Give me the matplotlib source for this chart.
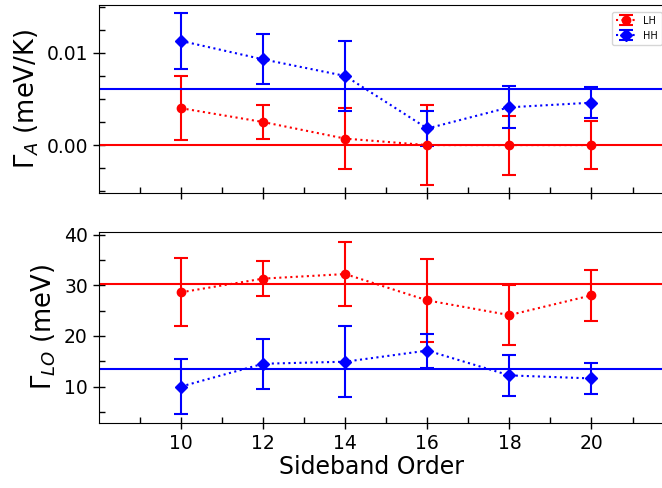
import numpy as np
import matplotlib
matplotlib.use('Agg')
import matplotlib.pyplot as plt
from matplotlib.ticker import MultipleLocator, FormatStrFormatter

orders = [10, 12, 14, 16, 18, 20]

# Gamma_A (meV/K)
ga_lh = [0.0040, 0.0025, 0.0007, 0.0, 0.0, 0.0]
ga_lh_err = [0.0035, 0.0018, 0.0033, 0.0043, 0.0032, 0.0026]
ga_hh = [0.0113, 0.0093, 0.0075, 0.0018, 0.0041, 0.0046]
ga_hh_err = [0.0030, 0.0027, 0.0038, 0.0019, 0.0023, 0.0017]
ga_lh_avg = 0.0
ga_hh_avg = 0.00605

# Gamma_LO (meV)
glo_lh = [28.6, 31.3, 32.2, 27.0, 24.1, 28.0]
glo_lh_err = [6.75, 3.45, 6.4, 8.2, 6.0, 5.05]
glo_hh = [10.0, 14.5, 14.9, 17.1, 12.2, 11.6]
glo_hh_err = [5.4, 4.9, 7.0, 3.35, 4.1, 3.05]
glo_lh_avg = 30.3
glo_hh_avg = 13.55

fig = plt.figure(figsize=(6.62, 4.88), dpi=100)
ax1 = fig.add_axes([0.1495, 0.6045, 0.868, 0.3853])
ax2 = fig.add_axes([0.1495, 0.1342, 0.868, 0.3904], sharex=ax1)

kw = dict(capsize=5, elinewidth=1.5, capthick=1.5, markersize=6, linewidth=1.5, linestyle=':')

ax1.errorbar(orders, ga_lh, yerr=ga_lh_err, color='red', marker='o', label='LH', **kw)
ax1.errorbar(orders, ga_hh, yerr=ga_hh_err, color='blue', marker='D', label='HH', **kw)
ax1.axhline(ga_lh_avg, color='red', linewidth=1.5)
ax1.axhline(ga_hh_avg, color='blue', linewidth=1.5)

ax2.errorbar(orders, glo_lh, yerr=glo_lh_err, color='red', marker='o', **kw)
ax2.errorbar(orders, glo_hh, yerr=glo_hh_err, color='blue', marker='D', **kw)
ax2.axhline(glo_lh_avg, color='red', linewidth=1.5)
ax2.axhline(glo_hh_avg, color='blue', linewidth=1.5)

ax1.set_xlim(8, 22)
ax1.set_ylim(-0.0052, 0.0152)
ax2.set_ylim(2.9, 40.5)

ax1.yaxis.set_major_locator(MultipleLocator(0.01))
ax1.yaxis.set_minor_locator(MultipleLocator(0.0025))
ax1.yaxis.set_major_formatter(FormatStrFormatter('%.2f'))
ax2.yaxis.set_major_locator(MultipleLocator(10))
ax2.yaxis.set_minor_locator(MultipleLocator(5))
ax2.set_xticks(orders)
ax2.set_xticks([9, 11, 13, 15, 17, 19, 21], minor=True)

for ax in (ax1, ax2):
    ax.tick_params(which='major', direction='inout', length=9, width=1, labelsize=13.5)
    ax.tick_params(which='minor', direction='in', length=4, width=1)
plt.setp(ax1.get_xticklabels(), visible=False)

ax1.set_ylabel(r'$\Gamma_A$ (meV/K)', fontsize=18.5)
ax2.set_ylabel(r'$\Gamma_{LO}$ (meV)', fontsize=18.5)
ax2.set_xlabel('Sideband Order', fontsize=17)
ax2.xaxis.set_label_coords(0.475, -0.17)

ax1.legend(loc='upper right', fontsize=7, bbox_to_anchor=(667 / 662, 1 - 7 / 488),
           bbox_transform=fig.transFigure)

fig.savefig('out.png', dpi=100)
